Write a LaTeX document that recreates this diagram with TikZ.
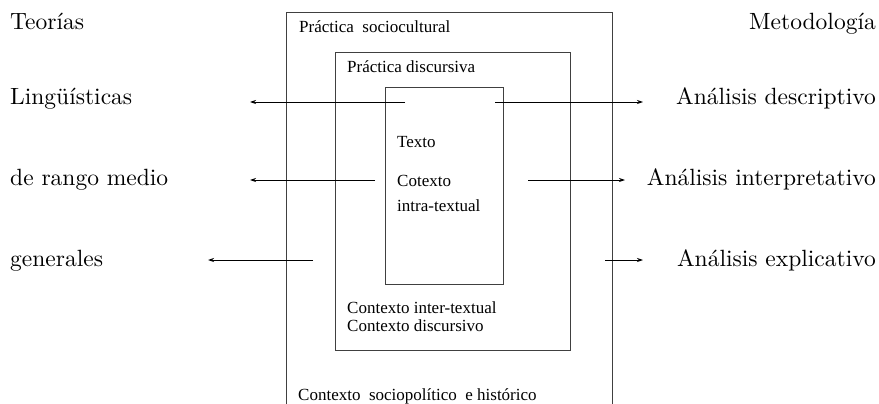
\documentclass[tikz,border=0pt]{standalone}
\usepackage{fontspec}
\newfontfamily\timesfont{Liberation Serif}
\newfontfamily\sidefont{lmroman10-regular.otf}
\usetikzlibrary{arrows.meta}
\begin{document}
\begin{tikzpicture}[x=1pt, y=-1pt,
sidelabel/.style={inner sep=0pt, font=\sidefont\fontsize{23.5}{27}\selectfont},
boxlabel/.style={inner sep=0pt, anchor=base west, font=\timesfont\fontsize{17}{20}\selectfont},
boxline/.style={draw=black!75, line width=0.9pt},
arrowline/.style={line width=0.8pt, -{Stealth[length=6pt, width=4pt]}}]

\useasboundingbox (0,0) rectangle (879,404);

% recuadros
\draw[boxline] (286,404) -- (286,12) -- (612,12) -- (612,404);
\draw[boxline] (335,52) rectangle (570,350);
\draw[boxline] (385,87) rectangle (503,284);

\node[boxlabel](sociocultural) at (299,33){Práctica\ \ sociocultural};
\node[boxlabel](discursiva) at (347,73){Práctica discursiva};
\node[boxlabel](texto) at (397,147){Texto};
\node[boxlabel](cotexto) at (397,186){Cotexto};
\node[boxlabel](intratextual) at (397,211){intra-textual};
\node[boxlabel](intertextual) at (347,313){Contexto inter-textual};
\node[boxlabel](ctxdiscursivo) at (347,331){Contexto discursivo};
\node[boxlabel](sociopolitico) at (298,400){Contexto\ \ sociopolítico\ \ e histórico};

\node[sidelabel, anchor=base west](teorias) at (10,30){Teorías};
\node[sidelabel, anchor=base west](linguisticas) at (10,104){Lingüísticas};
\node[sidelabel, anchor=base west](rangomedio) at (10,185){de rango medio};
\node[sidelabel, anchor=base west](generales) at (10,266){generales};

\node[sidelabel, anchor=base east](metodologia) at (876,30){Metodología};
\node[sidelabel, anchor=base east](descriptivo) at (876,104){Análisis descriptivo};
\node[sidelabel, anchor=base east](interpretativo) at (876,185){Análisis interpretativo};
\node[sidelabel, anchor=base east](explicativo) at (876,266){Análisis explicativo};

\coordinate (lingFrom) at (405,102);
\coordinate (lingTo) at (250,102);
\coordinate (rangoFrom) at (375,180);
\coordinate (rangoTo) at (250,180);
\coordinate (genFrom) at (313,260);
\coordinate (genTo) at (208,260);
\coordinate (descFrom) at (495,102);
\coordinate (descTo) at (643,102);
\coordinate (interpFrom) at (528,180);
\coordinate (interpTo) at (625,180);
\coordinate (explFrom) at (605,260);
\coordinate (explTo) at (643,260);

\draw[arrowline](lingFrom) -- (lingTo);
\draw[arrowline](rangoFrom) -- (rangoTo);
\draw[arrowline](genFrom) -- (genTo);
\draw[arrowline](descFrom) -- (descTo);
\draw[arrowline](interpFrom) -- (interpTo);
\draw[arrowline](explFrom) -- (explTo);

\end{tikzpicture}
\end{document}
